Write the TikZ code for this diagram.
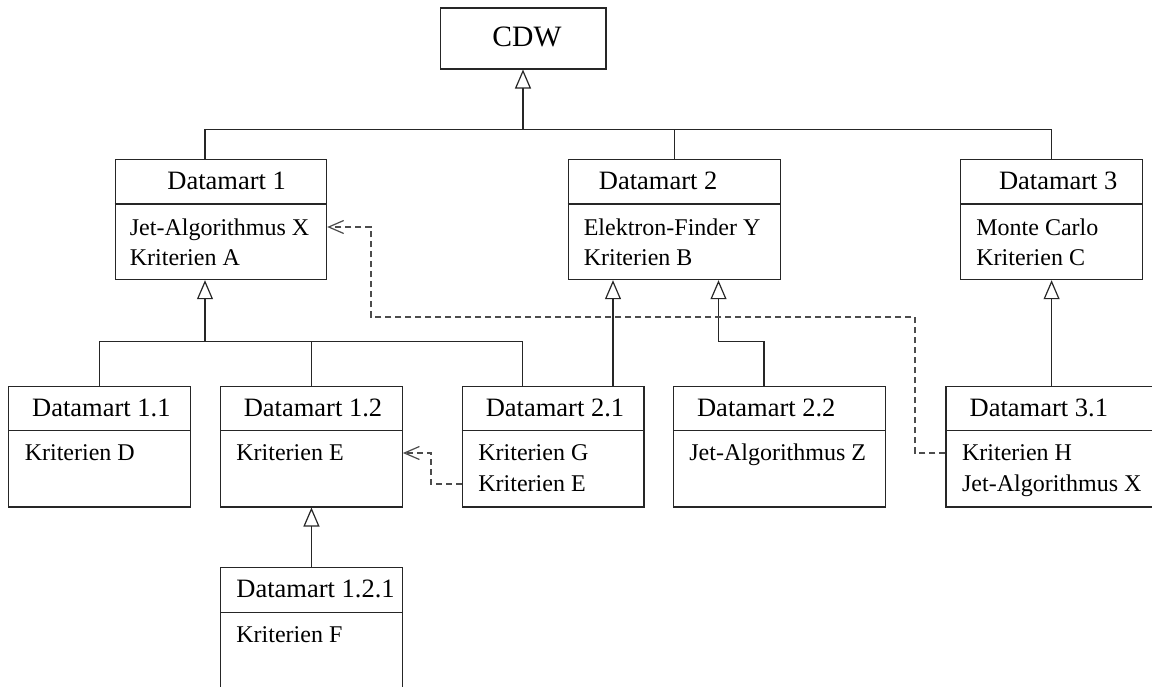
\documentclass[tikz,border=0pt]{standalone}
\usepackage{fontspec}
\setmainfont{Liberation Serif}
\usetikzlibrary{arrows.meta,calc}
\tikzset{
  boxline/.style={draw=black!85, line width=0.6pt},
  box/.style={boxline, rectangle, inner sep=0pt, anchor=north west},
  ttl/.style={anchor=base west, inner sep=0pt, font=\fontsize{13.25}{15}\selectfont},
  bdy/.style={anchor=base west, inner sep=0pt, font=\fontsize{12}{14}\selectfont},
  link/.style={draw=black!85, line width=0.6pt},
  inh/.style={link, -{Triangle[open, length=9.5pt, width=8pt]}},
  dep/.style={draw=black!70, line width=0.6pt, dash pattern=on 3pt off 2pt,
              -{Straight Barb[length=7.5pt, width=6.5pt]}}
}
\newcommand\umlbox[6]{%
  \node[box, minimum width={(#4-#2)*0.5pt}, minimum height={(#5-#3)*0.5pt}] (#1) at (#2,#3) {};
  \draw[boxline] (#1.west |- 0,#6) -- (#1.east |- 0,#6);
}
\begin{document}
\begin{tikzpicture}[x=0.5pt, y=-0.5pt]
\useasboundingbox (0,0) rectangle (1152,686);
\clip (0,0) rectangle (1152,686);

% CDW
\node[box, minimum width={(605.3-439.5)*0.5pt}, minimum height={(68.3-7.3)*0.5pt}] (cdw) at (439.5,7.3) {};
\node[anchor=base west, inner sep=0pt, font=\fontsize{14.8}{17}\selectfont] (cdwt) at (492,46) {CDW};

% level 1
\umlbox{d1}{114.5}{158.5}{326}{279}{204}
\umlbox{d2}{567.5}{158.5}{779.7}{279}{204}
\umlbox{d3}{960}{158.5}{1142}{279}{204}

\node[ttl] (d1t) at (167,189) {Datamart 1};
\node[bdy] (d1a) at (129.5,235) {Jet-Algorithmus X};
\node[bdy] (d1b) at (129.5,265) {Kriterien A};

\node[ttl] (d2t) at (598.5,189) {Datamart 2};
\node[bdy] (d2a) at (583.4,235) {Elektron-Finder Y};
\node[bdy] (d2b) at (583.4,265) {Kriterien B};

\node[ttl] (d3t) at (998.6,189) {Datamart 3};
\node[bdy] (d3a) at (976,235) {Monte Carlo};
\node[bdy] (d3b) at (976,265) {Kriterien C};

% level 2
\umlbox{d11}{8}{385.7}{190}{506.3}{430.8}
\umlbox{d12}{220}{385.7}{401.7}{506.3}{430.8}
\umlbox{d21}{461.7}{385.7}{643.4}{506.3}{430.8}
\umlbox{d22}{673}{385.7}{885}{506.3}{430.8}
\umlbox{d31}{945.3}{385.7}{1170}{506.3}{430.8}

\node[ttl] (d11t) at (31.8,416.7) {Datamart 1.1};
\node[bdy] (d11a) at (24.4,460.7) {Kriterien D};

\node[ttl] (d12t) at (243.4,416.7) {Datamart 1.2};
\node[bdy] (d12a) at (236,460.7) {Kriterien E};

\node[ttl] (d21t) at (485.4,416.7) {Datamart 2.1};
\node[bdy] (d21a) at (478,460.7) {Kriterien G};
\node[bdy] (d21b) at (478,491.2) {Kriterien E};

\node[ttl] (d22t) at (696.7,416.7) {Datamart 2.2};
\node[bdy] (d22a) at (689,460.7) {Jet-Algorithmus Z};

\node[ttl] (d31t) at (969.3,416.7) {Datamart 3.1};
\node[bdy] (d31a) at (961.7,460.7) {Kriterien H};
\node[bdy] (d31b) at (961.7,491.2) {Jet-Algorithmus X};

% level 3
\umlbox{d121}{220}{566.7}{401.7}{720}{612.3}
\node[ttl] (d121t) at (236,597.3) {Datamart 1.2.1};
\node[bdy] (d121a) at (236,642.7) {Kriterien F};

% inheritance to CDW
\coordinate (b0) at ($(cdw.south)+(0,60)$);
\draw[link] ($(d1.north west)+(90.5,0)$) |- (b0);
\draw[link] (d2.north) |- (b0);
\draw[link] (d3.north) |- (b0);
\draw[inh] (b0) -- (cdw.south);

% inheritance to Datamart 1
\coordinate (b1) at ($(d1.south west)+(90.5,61)$);
\draw[link] (d11.north) |- (b1);
\draw[link] (d12.north) |- (b1);
\draw[link] ($(d21.north west)+(60.7,0)$) |- (b1);
\draw[inh] (b1) -- (b1 |- d1.south);

% inheritance to Datamart 2
\coordinate (p21) at ($(d21.north west)+(151.3,0)$);
\draw[inh] (p21) -- (p21 |- d2.south);
\coordinate (p22) at ($(d22.north west)+(91,0)$);
\coordinate (q22) at ($(d2.south west)+(151,0)$);
\draw[inh] (p22) |- ($(q22)+(0,61)$) -- (q22);

% inheritance to Datamart 3
\draw[inh] (d31.north -| d3.south) -- (d3.south);

% inheritance to Datamart 1.2
\draw[inh] (d121.north) -- (d12.south);

% dependencies
\draw[dep] (d21.west |- 0,484) -| (431,453) -- (d12.east |- 0,453);
\draw[dep] (d31.west |- 0,453) -| (915,317) -| (371,227) -- (d1.east |- 0,227);
\end{tikzpicture}
\end{document}
